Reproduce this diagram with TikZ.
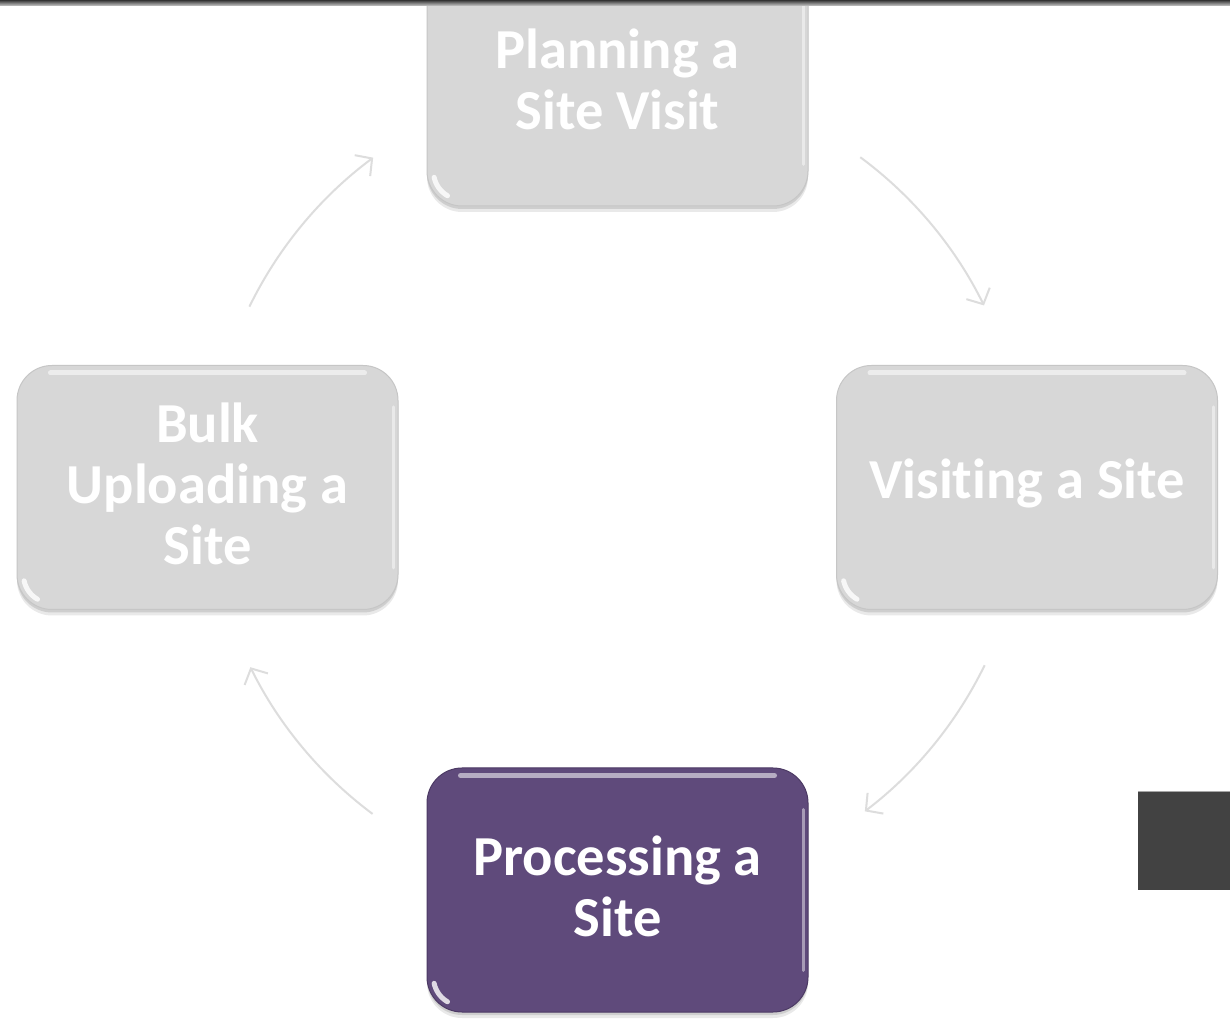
\documentclass[tikz,border=0pt]{standalone}
\usepackage{fontspec}
\setmainfont{Carlito}[Ligatures={NoCommon,NoRare,NoContextual}]
\usetikzlibrary{shadows,arrows.meta,calc}
\definecolor{boxgray}{HTML}{D7D7D7}
\definecolor{boxedge}{HTML}{C6C6C6}
\definecolor{purp}{HTML}{5F4A7B}
\definecolor{purpedge}{HTML}{4C3A64}
\definecolor{arrgray}{HTML}{DDDDDD}
\definecolor{darkblk}{HTML}{424242}
\tikzset{
  stepbox/.style={rectangle, rounded corners=35pt, minimum width=381pt, minimum height=244pt,
    inner sep=0pt,
    drop shadow={shadow xshift=0pt, shadow yshift=-6pt, opacity=0.12, fill=black!70},
    drop shadow={shadow xshift=0pt, shadow yshift=-3pt, opacity=0.2, fill=black!60}},
  graybox/.style={stepbox, fill=boxgray, draw=boxedge, line width=1pt},
  purplebox/.style={stepbox, fill=purp, draw=purpedge, line width=1pt},
  steplabel/.style={align=center, text=white, inner sep=0pt, font=\bfseries\fontsize{56.5}{61}\selectfont},
  cyc/.style={draw=arrgray, line width=2pt, -{Straight Barb[length=12pt,width=26pt,line width=2pt]}},
  hl/.style={white, line width=5pt, opacity=0.55, line cap=round},
}
\begin{document}
\begin{tikzpicture}[x=1pt,y=1pt]
\useasboundingbox (0,0) rectangle (1230,1027);
\fill[white] (0,0) rectangle (1230,1027);
% boxes
\node[graybox] (plan) at (617.5,943) {};
\node[graybox] (visit) at (1027,539.5) {};
\node[purplebox] (proc) at (617.5,137) {};
\node[graybox] (bulk) at (207.5,539.5) {};
% highlights
\foreach \n in {plan,visit,proc,bulk}{
  \draw[hl] ($(\n.north west)+(34,-8)$) -- ($(\n.north east)+(-34,-8)$);
  \draw[hl,line width=3pt,opacity=0.45] ($(\n.north east)+(-5,-42)$) -- ($(\n.south east)+(-5,42)$);
  \draw[hl,line width=5pt,opacity=0.8] ($(\n.south west)+(35,35)$) ++(192:28) arc[start angle=192,end angle=240,radius=28];
}
% labels
\node[steplabel] (planT) at ($(plan.center)+(0,5)$) {Planning a\\Site Visit};
\node[steplabel] (visitT) at ($(visit.center)+(0,4)$) {Visiting a Site};
\node[steplabel] (procT) at ($(proc.center)+(0,4)$) {Processing a\\Site};
\node[steplabel] (bulkT) at ($(bulk.center)+(0,4)$) {Bulk\\Uploading a\\Site};
% cycle arrows
\coordinate (ctr) at (617,541);
\coordinate (a1) at ($(ctr)+(53.5:409)$);
\coordinate (a2) at ($(ctr)+(-26:409)$);
\coordinate (a3) at ($(ctr)+(233.3:409)$);
\coordinate (a4) at ($(ctr)+(154:409)$);
\draw[cyc] (a1) arc[start angle=53.5,end angle=26.2,radius=409];
\draw[cyc] (a2) arc[start angle=-26,end angle=-52.7,radius=409];
\draw[cyc] (a3) arc[start angle=233.3,end angle=206.3,radius=409];
\draw[cyc] (a4) arc[start angle=154,end angle=126.6,radius=409];
% top band and dark block
\shade[top color=black!80, bottom color=black!20] (0,1021) rectangle (1230,1027);
\fill[darkblk] (1138,137) rectangle (1230,235);
\draw[black!35, line width=1pt] (1138,235) -- (1230,235);
\end{tikzpicture}
\end{document}
